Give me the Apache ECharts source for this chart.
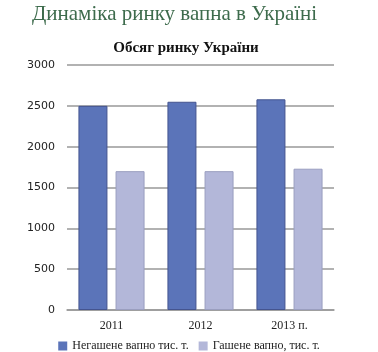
<!DOCTYPE html>
<html>
<head>
<meta charset="utf-8">
<script src="https://cdn.jsdelivr.net/npm/echarts@6/dist/echarts.min.js"></script>
<style>
  html, body { margin: 0; padding: 0; background: #fff; }
  #chart { width: 378px; height: 352px; }
</style>
</head>
<body>
<div id="chart"></div>
<script>
// дані з діаграми
var categories = ['2011', '2012', '2013 п.'];
var quicklime = [2500, 2550, 2580];
var slakedLime = [1700, 1700, 1730];
var seriesNames = ['Негашене вапно тис. т.', 'Гашене вапно, тис. т.'];

var chart = echarts.init(document.getElementById('chart'));
var serif = '"Liberation Serif", "DejaVu Serif", serif';

var option = {
  animation: false,
  title: [{
    text: 'Динаміка ринку вапна в Україні',
    left: 27,
    top: -1,
    textStyle: { fontFamily: serif, fontWeight: 'normal', fontSize: 21, color: '#3d6b4c' }
  }, {
    text: 'Обсяг ринку України',
    left: 181,
    top: 36,
    textAlign: 'center',
    textStyle: { fontFamily: serif, fontWeight: 'bold', fontSize: 15, color: '#111' }
  }],
  legend: {
    top: 335,
    left: 'center',
    icon: 'rect',
    itemWidth: 9,
    itemHeight: 9,
    itemGap: 10,
    itemStyle: { borderWidth: 0 },
    textStyle: { fontFamily: serif, fontSize: 12, color: '#222' },
    data: seriesNames
  },
  grid: { left: 67, right: 44, top: 65, bottom: 42 },
  xAxis: {
    type: 'category',
    data: categories,
    axisTick: { show: false },
    axisLine: { lineStyle: { color: '#999', width: 1.5 } },
    axisLabel: { fontFamily: serif, fontSize: 12, color: '#222', margin: 10 }
  },
  yAxis: {
    type: 'value',
    min: 0,
    max: 3000,
    interval: 500,
    axisLabel: {
      fontFamily: '"DejaVu Sans", sans-serif', fontSize: 11, color: '#222', margin: 12,
      formatter: function (v) { return String(v); }
    },
    splitLine: { lineStyle: { color: '#999', width: 1.5 } }
  },
  series: [{
    name: seriesNames[0],
    type: 'bar',
    data: quicklime,
    barWidth: 29,
    barGap: '28%',
    itemStyle: { color: '#5b74b9', borderColor: '#44548f', borderWidth: 1 }
  }, {
    name: seriesNames[1],
    type: 'bar',
    data: slakedLime,
    barWidth: 29,
    itemStyle: { color: '#b3b7d9', borderColor: '#9a9ebf', borderWidth: 1 }
  }]
};

chart.setOption(option);
</script>
</body>
</html>
